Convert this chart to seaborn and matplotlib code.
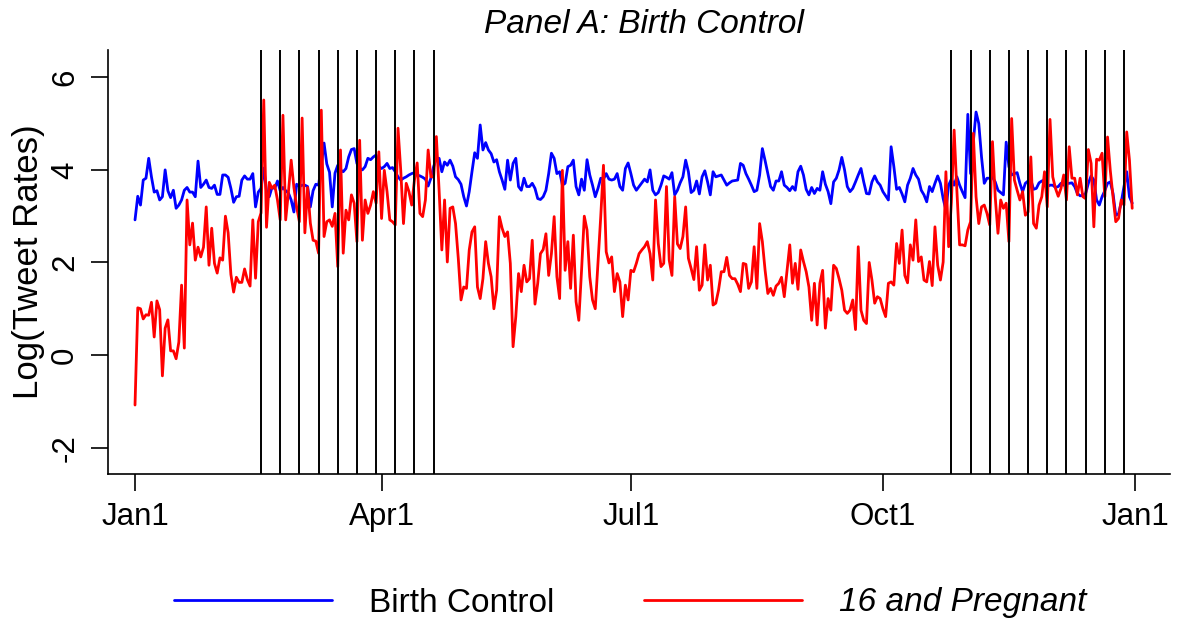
import numpy as np
import pandas as pd
import matplotlib
matplotlib.use("Agg")
import matplotlib.pyplot as plt
from matplotlib.lines import Line2D
import seaborn as sns

# daily log tweet rates, Jan 1 - Dec 31
birth_control = [
    2.92, 3.43, 3.24, 3.78, 3.82, 4.25, 3.85, 3.52, 3.55, 3.35, 3.42, 4.0, 3.55, 3.4, 3.56, 3.17, 3.24, 3.35, 3.56, 3.62,
    3.52, 3.52, 3.42, 4.19, 3.62, 3.69, 3.78, 3.62, 3.6, 3.67, 3.47, 3.47, 3.89, 3.89, 3.84, 3.6, 3.3,
    3.42, 3.43, 3.78, 3.87, 3.8, 3.8, 3.92, 3.2, 3.52, 3.6, 4.04, 3.55, 3.42, 3.62, 3.6, 3.76, 3.55, 3.62, 3.55,
    3.5, 3.35, 3.09, 3.69, 3.64, 3.67, 3.67, 3.64, 3.2, 3.55, 3.69, 3.67, 4.1, 4.58, 4.13, 3.95, 3.2,
    3.93, 4.1, 4.0, 3.96, 4.03, 4.28, 4.44, 4.46, 4.14, 4.03, 4.0, 4.07, 4.25, 4.22, 4.28, 4.32, 4.07, 4.03,
    4.07, 4.14, 4.03, 4.05, 3.96, 3.85, 3.78, 3.82, 3.85, 3.89, 3.92, 3.94, 3.89, 3.87, 3.84, 3.8, 3.65, 3.82,
    4.07, 4.25, 4.25, 3.96, 4.17, 4.1, 4.21, 4.08, 3.85, 3.79, 3.69, 3.42, 3.22, 3.53, 3.96, 4.37, 4.25, 4.97,
    4.43, 4.59, 4.43, 4.35, 4.17, 4.22, 3.96, 3.78, 3.58, 4.21, 3.78, 4.14, 4.25, 3.64, 3.56, 3.82, 3.64, 3.64, 3.71,
    3.6, 3.38, 3.36, 3.42, 3.56, 3.92, 4.36, 4.25, 3.92, 3.96, 3.67, 3.71, 4.07, 4.1, 4.21, 3.64, 3.46, 3.8, 3.56,
    4.22, 3.89, 3.67, 3.42, 3.6, 3.82, 3.8, 3.92, 3.8, 3.78, 3.8, 3.92, 3.64, 3.56, 4.03, 4.15, 3.92, 3.67,
    3.56, 3.64, 3.72, 3.8, 3.74, 4.0, 3.56, 3.46, 3.51, 3.67, 3.87, 3.84, 3.8, 3.94, 3.46, 3.56, 3.72, 3.85,
    4.21, 3.96, 3.51, 3.56, 3.76, 3.48, 3.85, 3.98, 3.74, 3.46, 3.96, 3.85, 3.87, 3.89, 3.78, 3.67, 3.72, 3.76,
    3.77, 3.78, 4.14, 4.1, 3.92, 3.8, 3.67, 3.53, 3.56, 3.89, 4.46, 4.2, 3.92, 3.64, 3.56, 3.76, 3.76, 3.96, 3.67,
    3.62, 3.55, 3.64, 3.56, 3.96, 4.08, 3.89, 3.58, 3.46, 3.62, 3.49, 3.6, 3.56, 3.96, 3.69, 3.53, 3.27, 3.74,
    3.82, 4.0, 4.27, 4.0, 3.64, 3.53, 3.6, 3.74, 3.89, 4.03, 3.74, 3.49, 3.48, 3.74, 3.87, 3.74, 3.67, 3.53,
    3.44, 3.35, 4.5, 4.07, 3.58, 3.62, 3.48, 3.31, 3.67, 3.82, 4.03, 3.89, 3.8, 3.56, 3.46, 3.31, 3.64, 3.53,
    3.71, 3.87, 3.71, 3.38, 3.13, 3.67, 3.8, 3.67, 3.85, 3.67, 3.53, 3.4, 5.2, 3.92, 4.6, 5.25, 5.0, 4.28,
    3.71, 3.82, 3.82, 3.84, 3.74, 3.56, 3.51, 3.46, 4.6, 4.07, 3.89, 3.92, 3.94, 3.71, 3.53, 3.71, 3.76, 3.78,
    3.58, 3.6, 3.72, 3.76, 3.78, 3.64, 3.67, 3.67, 3.62, 3.64, 3.71, 3.67, 3.71, 3.71, 3.72, 3.64, 3.49, 3.44,
    3.45, 3.49, 3.71, 3.87, 3.78, 3.35, 3.24, 3.42, 3.55, 3.71, 3.74, 3.49, 3.02, 3.05, 3.3, 3.64, 3.96, 3.42, 3.28,
]

sixteen_pregnant = [
    -1.08, 1.02, 1.0, 0.78, 0.87, 0.86, 1.14, 0.39, 1.17, 0.98, -0.45, 0.58, 0.76, 0.09, 0.09, -0.08, 0.28, 1.51, 0.15,
    3.35, 2.38, 2.85, 2.05, 2.33, 2.12, 2.33, 3.2, 1.94, 2.74, 1.98, 1.77, 2.1, 2.05, 3.0, 2.64, 1.74, 1.36,
    1.68, 1.57, 1.57, 1.86, 1.63, 1.49, 2.92, 1.66, 2.88, 3.07, 5.51, 2.76, 3.73, 3.6, 3.67, 3.35, 2.92, 5.18,
    2.92, 3.52, 4.21, 3.62, 3.2, 2.88, 5.12, 2.64, 3.62, 2.85, 2.48, 2.46, 2.2, 5.29, 2.56, 2.88, 2.92, 2.78,
    3.06, 1.91, 4.43, 2.2, 3.13, 2.92, 3.46, 3.28, 2.45, 4.64, 2.48, 3.35, 3.06, 3.24, 3.53, 3.28, 4.39, 2.95,
    3.99, 3.53, 2.92, 2.88, 2.81, 4.9, 3.99, 2.84, 3.71, 3.53, 3.24, 3.78, 4.15, 3.06, 2.99, 3.35, 4.43, 3.85,
    3.85, 4.72, 3.56, 2.27, 3.35, 2.01, 3.17, 3.2, 2.84, 2.09, 1.19, 1.47, 1.44, 2.27, 2.66, 2.77, 1.47, 1.22,
    1.65, 2.45, 1.98, 1.69, 1.0, 1.4, 2.99, 2.74, 2.56, 2.66, 1.98, 0.18, 0.83, 1.76, 1.37, 1.94, 1.58, 1.65, 2.48,
    1.1, 1.55, 2.19, 2.28, 2.62, 1.72, 2.19, 2.99, 1.69, 1.22, 3.99, 1.83, 2.45, 1.44, 2.59, 1.15, 0.75, 1.83, 3.0,
    2.7, 1.69, 1.19, 1.0, 1.98, 2.99, 4.1, 2.23, 1.99, 2.12, 1.37, 1.76, 1.58, 0.83, 1.51, 1.19, 1.83, 1.8,
    1.98, 2.19, 2.27, 2.34, 2.45, 2.19, 1.62, 3.35, 2.41, 1.91, 1.98, 3.64, 2.05, 1.72, 3.42, 2.4, 2.3, 2.56,
    3.2, 2.09, 1.87, 1.63, 2.34, 1.4, 1.51, 2.38, 1.62, 1.94, 1.08, 1.12, 1.4, 1.8, 1.8, 2.11, 1.72, 1.65,
    1.65, 1.53, 1.37, 1.98, 1.96, 1.44, 1.58, 2.34, 1.44, 2.84, 2.45, 1.83, 1.33, 1.44, 1.29, 1.49, 1.55, 1.68, 1.26,
    1.83, 2.38, 1.55, 1.98, 1.42, 2.27, 2.02, 1.8, 1.47, 0.75, 1.55, 0.65, 1.55, 1.83, 0.58, 1.22, 0.97, 1.94,
    1.87, 1.65, 1.4, 0.97, 0.9, 0.97, 1.19, 0.55, 2.34, 0.97, 0.75, 0.68, 2.0, 1.62, 1.12, 1.26, 1.22, 1.0,
    0.83, 1.55, 1.58, 1.51, 2.41, 1.98, 2.7, 1.72, 1.56, 2.38, 2.05, 2.92, 2.02, 2.12, 1.62, 1.58, 2.02, 1.5,
    2.77, 1.94, 1.62, 2.01, 3.96, 2.34, 3.3, 4.86, 3.56, 2.38, 2.38, 2.36, 2.7, 2.88, 4.79, 3.42, 2.84, 3.2,
    3.24, 3.06, 2.81, 4.61, 3.42, 2.63, 3.35, 3.17, 3.28, 2.45, 5.11, 3.78, 3.56, 3.35, 3.53, 3.02, 3.09,
    4.28, 2.84, 2.74, 3.24, 3.42, 3.96, 3.2, 5.09, 3.85, 3.6, 3.43, 3.6, 3.89, 3.35, 4.5, 3.82, 3.82, 3.46, 3.82,
    3.42, 3.38, 4.44, 4.14, 2.77, 4.23, 4.21, 4.36, 3.42, 4.71, 3.99, 3.42, 2.88, 2.95, 3.35, 3.24, 4.82, 4.21, 3.17,
]

# weekly episode air dates (vertical lines)
episode_dates = [
    "2011-02-16", "2011-02-23", "2011-03-02", "2011-03-09", "2011-03-16",
    "2011-03-23", "2011-03-30", "2011-04-06", "2011-04-13", "2011-04-20",
    "2011-10-26", "2011-11-02", "2011-11-09", "2011-11-16", "2011-11-23",
    "2011-11-30", "2011-12-07", "2011-12-14", "2011-12-21", "2011-12-28",
]

tick_dates = ["2011-01-01", "2011-04-01", "2011-07-01", "2011-10-01", "2012-01-01"]
tick_labels = ["Jan1", "Apr1", "Jul1", "Oct1", "Jan1"]
series_names = ["Birth Control", "16 and Pregnant"]

dates = pd.date_range("2011-01-01", periods=len(birth_control), freq="D")
df = pd.DataFrame({
    "date": np.concatenate([dates, dates]),
    "value": birth_control + sixteen_pregnant,
    "series": [series_names[0]] * len(birth_control) + [series_names[1]] * len(sixteen_pregnant),
})

sns.set_style("ticks")
plt.rcParams["font.family"] = ["Liberation Sans", "DejaVu Sans"]
plt.rcParams["axes.unicode_minus"] = False

W, H = 1178, 623
fig = plt.figure(figsize=(W / 100, H / 100), dpi=100)
left, right, bottom, top = 108, 1170, 474, 50
ax = fig.add_axes([left / W, 1 - bottom / H, (right - left) / W, (bottom - top) / H])

palette = {series_names[0]: "blue", series_names[1]: "red"}
sns.lineplot(data=df, x="date", y="value", hue="series", palette=palette,
             linewidth=2.0, legend=False, ax=ax)

for d in episode_dates:
    ax.axvline(pd.Timestamp(d), color="black", linewidth=1.4, zorder=3)

start = pd.Timestamp("2011-01-01")
ax.set_xlim(start - pd.Timedelta(days=9.86), start + pd.Timedelta(days=377.8))
ax.set_ylim(-2.57, 6.59)

ax.set_xticks([pd.Timestamp(t) for t in tick_dates])
ax.set_xticklabels(tick_labels)
ax.set_yticks([-2, 0, 2, 4, 6])
ax.set_yticklabels(["-2", "0", "2", "4", "6"])
for lab in ax.get_yticklabels():
    lab.set_rotation(90)
    lab.set_va("center")

ax.tick_params(axis="both", labelsize=22.5, length=12, width=1.2, color="black", labelcolor="black")
ax.tick_params(axis="x", pad=8)
ax.tick_params(axis="y", pad=8)

for side in ["top", "right"]:
    ax.spines[side].set_visible(False)
for side in ["left", "bottom"]:
    ax.spines[side].set_color("black")
    ax.spines[side].set_linewidth(1.2)

ax.set_xlabel("")
ax.set_ylabel("Log(Tweet Rates)", fontsize=25, color="black", labelpad=4)
ax.set_title("Panel A: Birth Control", fontsize=24, fontstyle="italic", color="black",
             x=(644 - left) / (right - left), pad=12)

handles = [Line2D([], [], color="blue", linewidth=2.0),
           Line2D([], [], color="red", linewidth=2.0)]
leg = fig.legend(handles, series_names, loc="center", bbox_to_anchor=(630 / W, 1 - 603 / H),
                 ncol=2, frameon=False, fontsize=24, handlelength=4.75,
                 handletextpad=1.1, columnspacing=2.7)
for t in leg.get_texts():
    t.set_color("black")
leg.get_texts()[1].set_fontstyle("italic")

fig.savefig("out.png", dpi=100)
